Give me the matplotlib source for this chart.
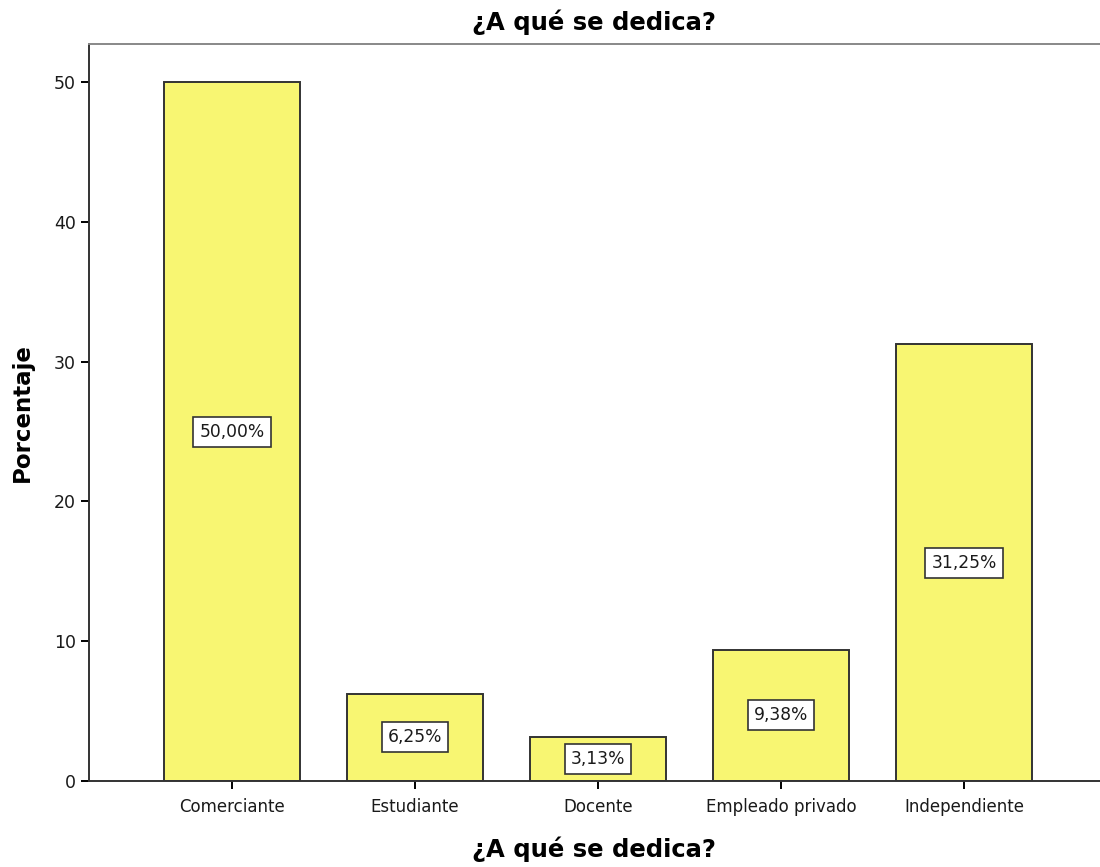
import matplotlib.pyplot as plt

plt.rcParams['font.family'] = ['DejaVu Sans']

# Ocupación de los encuestados (porcentaje)
categorias = ["Comerciante", "Estudiante", "Docente", "Empleado privado", "Independiente"]
porcentajes = [50.00, 6.25, 3.13, 9.38, 31.25]
etiquetas = ["50,00%", "6,25%", "3,13%", "9,38%", "31,25%"]

fig = plt.figure(figsize=(11, 8.67), dpi=100)
ax = fig.add_axes([0.0809, 0.0992, 0.9191, 0.85])

x = range(len(categorias))
ax.bar(x, porcentajes, width=0.743, color="#F8F672", edgecolor="#333333", linewidth=1.4)

# Etiquetas de valor a media altura de cada barra
for xi, v, t in zip(x, porcentajes, etiquetas):
    ax.text(xi, v / 2, t, ha="center", va="center", fontsize=12.3, color="#1a1a1a",
            bbox=dict(boxstyle="square,pad=0.35", fc="white", ec="#333333", lw=1.2))

ax.set_xlim(-0.781, 4.743)
ax.set_ylim(0, 52.72)
ax.set_xticks(list(x))
ax.set_xticklabels(categorias, fontsize=12, color="#1a1a1a")
ax.set_yticks([0, 10, 20, 30, 40, 50])
ax.tick_params(axis="y", labelsize=12.5, length=6, width=1.4, labelcolor="#1a1a1a")
ax.tick_params(axis="x", length=6, width=1.4, pad=6)

for s in ["left", "bottom"]:
    ax.spines[s].set_color("#333333")
    ax.spines[s].set_linewidth(1.4)
ax.spines["top"].set_color("#888888")
ax.spines["top"].set_linewidth(1.4)
ax.spines["right"].set_visible(False)

ax.set_ylabel("Porcentaje", fontsize=16.5, fontweight="bold", labelpad=14)
ax.set_xlabel("¿A qué se dedica?", fontsize=17.5, fontweight="bold", labelpad=15)
ax.set_title("¿A qué se dedica?", fontsize=17.5, fontweight="bold", pad=10)

fig.savefig("out.png", dpi=100)
